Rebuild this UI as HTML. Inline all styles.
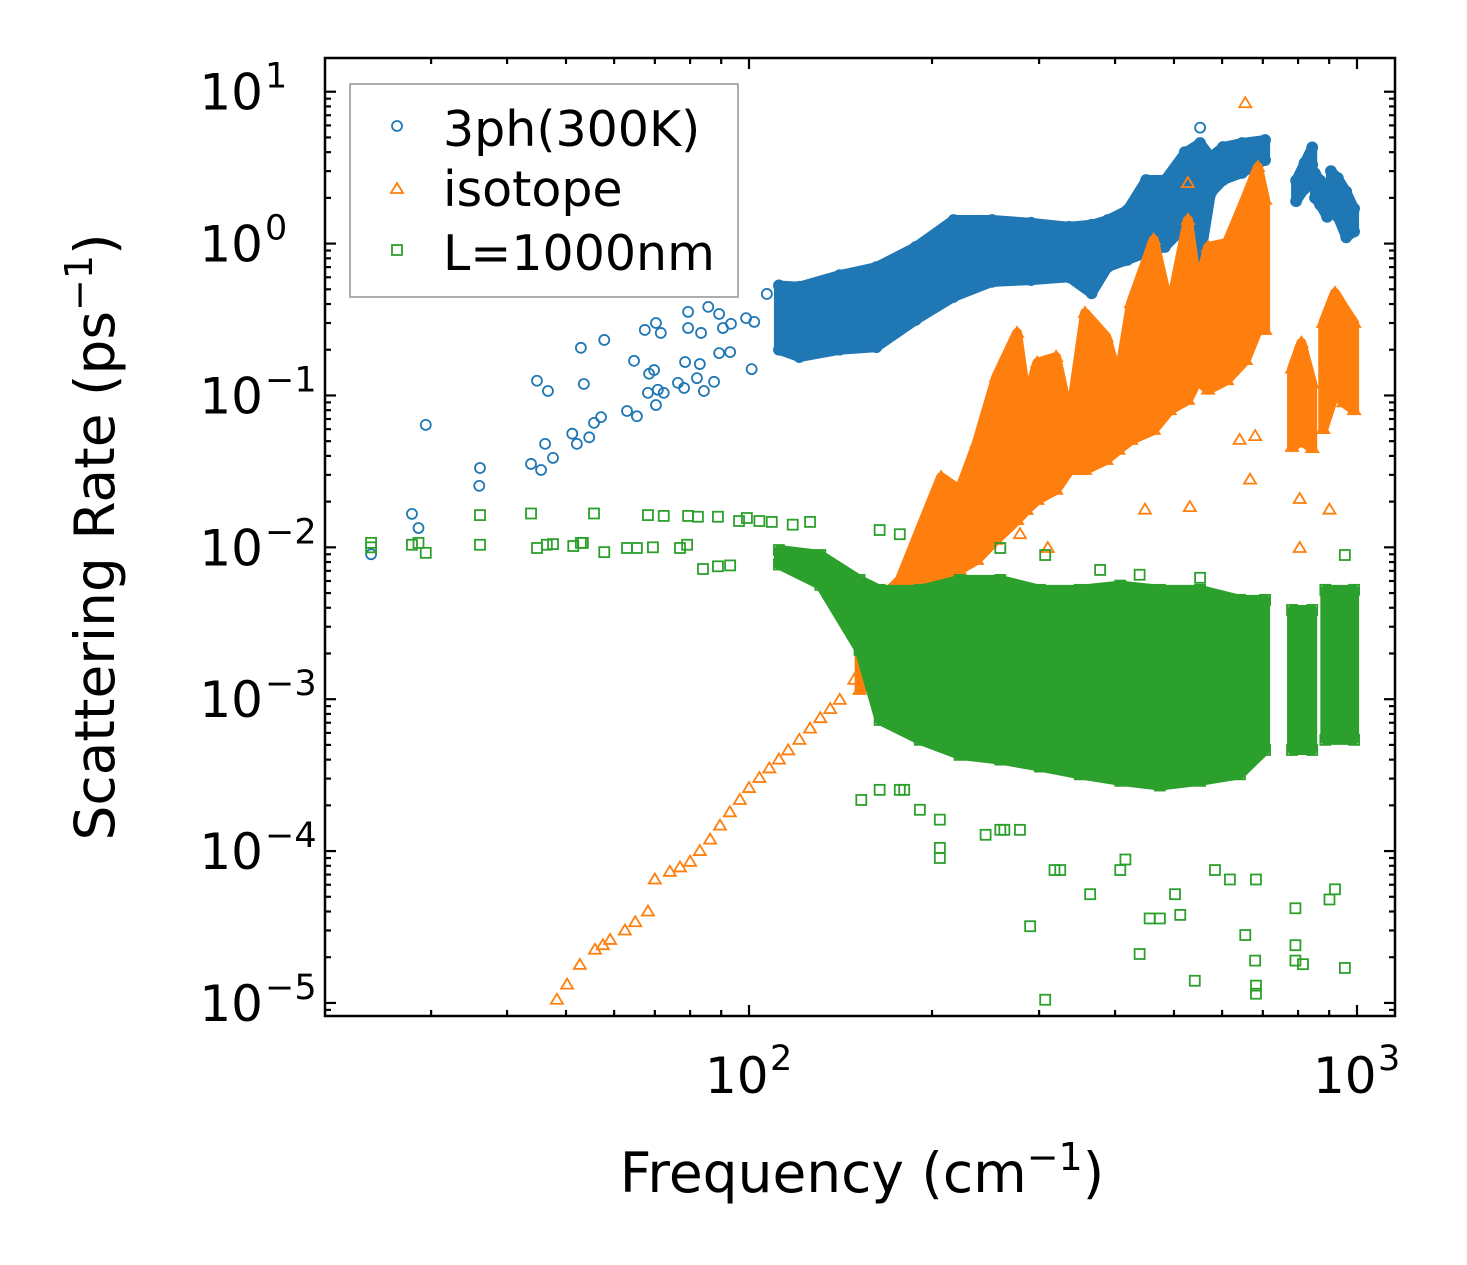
<!DOCTYPE html>
<html><head><meta charset="utf-8"><style>
html,body{margin:0;padding:0;background:#fff;}
svg{display:block;font-family:"DejaVu Sans","Liberation Sans",sans-serif;}
</style></head><body>
<svg id="chart" width="1467" height="1265" viewBox="0 0 1467 1265" xmlns="http://www.w3.org/2000/svg">
<rect x="0" y="0" width="1467" height="1265" fill="#fff"/>
<g id="marks"></g>
<g id="axes"></g>
<text x="862" y="1192" font-size="55" text-anchor="middle">Frequency (cm<tspan dy="-22" font-size="38">−1</tspan><tspan dy="22">)</tspan></text>
<text transform="translate(114,537) rotate(-90)" font-size="55" text-anchor="middle">Scattering Rate (ps<tspan dy="-22" font-size="38">−1</tspan><tspan dy="22">)</tspan></text>
<g>
<rect x="350" y="84" width="388" height="213" fill="#fff" fill-opacity="0.85" stroke="#999" stroke-width="1.6"/>
<g>
<circle cx="397" cy="126" r="5" fill="none" stroke="#1f77b4" stroke-width="1.8"/>
<text x="443" y="146" font-size="49">3ph(300K)</text></g>
<g>
<polygon points="397,183 403,193 391,193" fill="none" stroke="#ff7f0e" stroke-width="1.8"/>
<text x="443" y="206" font-size="49">isotope</text></g>
<g>
<rect x="392" y="245" width="10" height="10" fill="none" stroke="#2ca02c" stroke-width="1.8"/>
<text x="443" y="270" font-size="49">L=1000nm</text></g>
</g>
</svg>
<script>
// ---- data ----
const blueF=[23.9,27.9,28.6,29.4,36.1,36.0,43.8,44.8,45.5,46.2,46.7,47.6,51.2,52.1,52.9,53.5,54.6,55.6,57.1,57.8,63.0,64.7,65.4,67.4,68.2,68.5,69.8,70.3,70.3,70.8,71.6,72.4,76.4,78.2,78.5,79.4,79.4,82.1,83.0,83.4,84.3,85.7,87.6,89.3,89.3,90.6,93.1,93.4,98.9,101,102,107,552,521,575];
const blueV=[0.009,0.0166,0.0134,0.064,0.0333,0.0254,0.0354,0.125,0.0323,0.048,0.107,0.0388,0.056,0.048,0.206,0.119,0.053,0.066,0.072,0.232,0.079,0.169,0.073,0.27,0.104,0.139,0.147,0.30,0.0865,0.109,0.258,0.104,0.121,0.112,0.166,0.355,0.278,0.130,0.161,0.258,0.107,0.383,0.123,0.344,0.19,0.278,0.193,0.296,0.323,0.149,0.305,0.466,5.8,4.0,3.2];
const blueBandF=[112,121,141,162,188,217,251,291,336,366,389,419,450,483,521,552,575,602,647,706];
const blueBandHi=[0.53,0.52,0.62,0.70,0.95,1.43,1.43,1.37,1.29,1.33,1.43,1.66,2.62,2.62,3.95,4.59,3.72,4.32,4.59,4.81];
const blueBandLo=[0.20,0.179,0.20,0.208,0.314,0.445,0.56,0.575,0.60,0.47,0.70,0.78,0.87,0.95,1.29,0.78,2.15,2.62,2.92,3.55];
const blueSeg2F=[794,820,844];const blueSeg2Hi=[2.6,3.4,4.3];const blueSeg2Lo=[1.9,2.3,3.3];
const blueSeg3F=[853,870,893];const blueSeg3Hi=[2.9,2.6,2.3];const blueSeg3Lo=[2.0,1.8,1.5];
const blueSeg4F=[906,930,960,989];const blueSeg4Hi=[3.0,2.7,2.2,1.7];const blueSeg4Lo=[2.0,1.5,1.1,1.2];

const orF=[48.3,50.2,52.7,55.8,57.5,59.1,62.5,65,68.2,70.0,74.1,77,80.0,83,86.3,89.6,93,96.6,100,104,108,112,116,121,126,131,136,141,149,655,527,531,667,805,901,805,641,680,448,310,279];
const orV=[1.05e-5,1.32e-5,1.78e-5,2.24e-5,2.4e-5,2.6e-5,3.0e-5,3.4e-5,4.0e-5,6.5e-5,7.3e-5,7.8e-5,8.5e-5,1.0e-4,1.19e-4,1.47e-4,1.8e-4,2.17e-4,2.6e-4,3.03e-4,3.5e-4,4.0e-4,4.6e-4,5.4e-4,6.4e-4,7.5e-4,8.6e-4,9.9e-4,1.34e-3,8.4,2.5,0.0184,0.0279,0.0099,0.0177,0.0208,0.051,0.054,0.0177,0.0099,0.0122];
const orBandF=[152,164,177,193,207,222,237,255,276,286,298,320,337,357,387,405,425,463,492,527,547,569,611,656,687,706];
const orBandHi=[0.00245,0.0045,0.0061,0.0145,0.029,0.0239,0.0486,0.132,0.258,0.0933,0.164,0.179,0.0689,0.349,0.243,0.126,0.406,1.06,0.366,1.43,0.495,0.95,1.01,2.00,3.19,1.94];
const orBandLo=[0.00115,0.00134,0.00245,0.0045,0.0061,0.0071,0.00826,0.0112,0.0151,0.0176,0.0205,0.0239,0.0323,0.0323,0.0376,0.0438,0.0509,0.0592,0.080,0.0933,0.126,0.109,0.126,0.171,0.270,0.270];
const orSeg2F=[782,810,844];const orSeg2Hi=[0.15,0.222,0.12];const orSeg2Lo=[0.0458,0.05,0.045];
const orSeg3F=[880,920,950,989];const orSeg3Hi=[0.3,0.473,0.383,0.3];const orSeg3Lo=[0.06,0.104,0.09,0.08];

const grF=[23.9,23.9,27.9,28.6,29.4,36.1,36.1,43.8,44.8,46.5,47.6,51.4,52.9,53.3,55.6,57.8,63.0,65.4,68.2,69.5,72.4,77.0,79.1,79.4,82.4,84.0,88.9,88.9,93.1,96.3,99.2,104,109,118,126,
 153,164,177,180,191,206,206,206,245,259,263,279,290,307,318,325,364,408,416,439,456,474,502,512,541,584,618,655,680,682,682,682,792,792,792,815,901,920,955,
 164,177,307,259,378,439,552,955];
const grV=[0.0107,0.0100,0.0104,0.0107,0.0092,0.0163,0.0104,0.0167,0.0099,0.0104,0.0105,0.0102,0.0107,0.0107,0.0167,0.0093,0.0099,0.0099,0.0163,0.0100,0.0161,0.0099,0.0104,0.0161,0.0159,0.0072,0.0159,0.0075,0.0076,0.0149,0.0156,0.0149,0.0147,0.0141,0.0147,
 2.17e-4,2.53e-4,2.53e-4,2.53e-4,1.87e-4,1.61e-4,1.05e-4,9.0e-5,1.28e-4,1.38e-4,1.38e-4,1.38e-4,3.2e-5,1.05e-5,7.5e-5,7.5e-5,5.2e-5,7.5e-5,8.8e-5,2.1e-5,3.6e-5,3.6e-5,5.2e-5,3.8e-5,1.4e-5,7.5e-5,6.5e-5,2.8e-5,1.9e-5,1.3e-5,1.15e-5,6.5e-5,4.2e-5,2.4e-5,1.9e-5,1.8e-5,4.8e-5,5.6e-5,1.7e-5,
 0.0130,0.0122,0.0089,0.0099,0.0071,0.0066,0.0063,0.0089];
const grBandF=[112,131,152,164,191,222,259,301,350,408,474,552,642,706];
const grBandHi=[0.0096,0.0089,0.0061,0.00525,0.00525,0.0061,0.0061,0.00525,0.00525,0.0056,0.00525,0.00525,0.00451,0.00451];
const grBandLo=[0.0077,0.00566,0.00211,7.3e-4,5.4e-4,4.3e-4,4.0e-4,3.6e-4,3.2e-4,2.9e-4,2.7e-4,2.9e-4,3.2e-4,4.63e-4];
const grSeg2F=[782,844];const grSeg2Hi=[0.00387,0.00387];const grSeg2Lo=[4.63e-4,4.63e-4];
const grSeg3F=[887,989];const grSeg3Hi=[0.00525,0.00525];const grSeg3Lo=[5.4e-4,5.4e-4];

const yTickExp=[-5,-4,-3,-2,-1,0,1];
const xTickExp=[2,3];
// ---- axes ----
const L=325,R=1395,T=58,B=1016;
const XMIN=1.3026,XMAX=3.0625,YMIN=-5.086,YMAX=1.222;
function sx(f){return L+(Math.log10(f)-XMIN)/(XMAX-XMIN)*(R-L);}
function sy(v){return B-(Math.log10(v)-YMIN)/(YMAX-YMIN)*(B-T);}
const NS="http://www.w3.org/2000/svg";
const marks=document.getElementById('marks'),axes=document.getElementById('axes');
function mk(tag,attrs,parent){const e=document.createElementNS(NS,tag);for(const k in attrs)e.setAttribute(k,attrs[k]);parent.appendChild(e);return e;}
const COL={b:'#1f77b4',o:'#ff7f0e',g:'#2ca02c'};
function marker(kind,f,v,parent){
  const x=sx(f),y=sy(v);let e;
  if(kind==='b'){e=mk('circle',{cx:x,cy:y,r:5,fill:'none',stroke:COL.b,'stroke-width':1.8},parent);}
  else if(kind==='o'){e=mk('polygon',{points:`${x},${y-6} ${x+6},${y+4} ${x-6},${y+4}`,fill:'none',stroke:COL.o,'stroke-width':1.8},parent);}
  else {e=mk('rect',{x:x-5,y:y-5,width:10,height:10,fill:'none',stroke:COL.g,'stroke-width':1.8},parent);}
  
  
}
function band(kind,F,HI,LO,parent){
  let pts=[];for(let i=0;i<F.length;i++)pts.push(sx(F[i])+','+sy(HI[i]));
  for(let i=F.length-1;i>=0;i--)pts.push(sx(F[i])+','+sy(LO[i]));
  const p=mk('polygon',{points:pts.join(' '),fill:COL[kind],stroke:COL[kind],'stroke-width':10,'stroke-linejoin':'round'},parent);
  
  
  for(let i=0;i<F.length;i++){marker(kind,F[i],HI[i],parent);marker(kind,F[i],LO[i],parent);}
}
function series(kind,name,F,V,bands){
  const g=mk('g',{},marks);
  
  
  bands.forEach(b=>band(kind,b[0],b[1],b[2],g));
  const n=Math.min(F.length,V.length);
  for(let i=0;i<n;i++)marker(kind,F[i],V[i],g);
}
series('b','series-3ph',blueF,blueV,[[blueBandF,blueBandHi,blueBandLo],[blueSeg2F,blueSeg2Hi,blueSeg2Lo],[blueSeg3F,blueSeg3Hi,blueSeg3Lo],[blueSeg4F,blueSeg4Hi,blueSeg4Lo]]);
series('o','series-isotope',orF,orV,[[orBandF,orBandHi,orBandLo],[orSeg2F,orSeg2Hi,orSeg2Lo],[orSeg3F,orSeg3Hi,orSeg3Lo]]);
series('g','series-boundary',grF,grV,[[grBandF,grBandHi,grBandLo],[grSeg2F,grSeg2Hi,grSeg2Lo],[grSeg3F,grSeg3Hi,grSeg3Lo]]);
// frame
const fr=mk('rect',{x:L,y:T,width:R-L,height:B-T,fill:'none',stroke:'#000','stroke-width':2.5},axes);


function tick(x1,y1,x2,y2){const t=mk('line',{x1:x1,y1:y1,x2:x2,y2:y2,stroke:'#000','stroke-width':2.2},axes);

}
// y ticks
for(let e=-6;e<=1;e++){for(let m=1;m<10;m++){const v=m*Math.pow(10,e);const lv=Math.log10(v);if(lv<YMIN||lv>YMAX)continue;const y=sy(v);const len=m===1?11:6;tick(L,y,L+len,y);tick(R,y,R-len,y);}}
yTickExp.forEach(e=>{const y=sy(Math.pow(10,e));
const t=mk('text',{x:263,y:y+18,'font-size':50,'text-anchor':'end'},axes);t.textContent='10';


const s=mk('text',{x:265,y:y-4,'font-size':35,'text-anchor':'start'},axes);s.textContent=(e<0?'−':'')+Math.abs(e);

});
// x ticks
for(let e=1;e<=3;e++){for(let m=1;m<10;m++){const f=m*Math.pow(10,e);const lf=Math.log10(f);if(lf<XMIN||lf>XMAX)continue;const x=sx(f);const len=m===1?11:6;tick(x,B,x,B-len);tick(x,T,x,T+len);}}
xTickExp.forEach(e=>{const x=sx(Math.pow(10,e));
const t=mk('text',{x:x-44,y:1093,'font-size':50,'text-anchor':'start'},axes);t.textContent='10';


const s=mk('text',{x:x+21,y:1070,'font-size':35,'text-anchor':'start'},axes);s.textContent=String(e);

});
</script>
</body></html>
